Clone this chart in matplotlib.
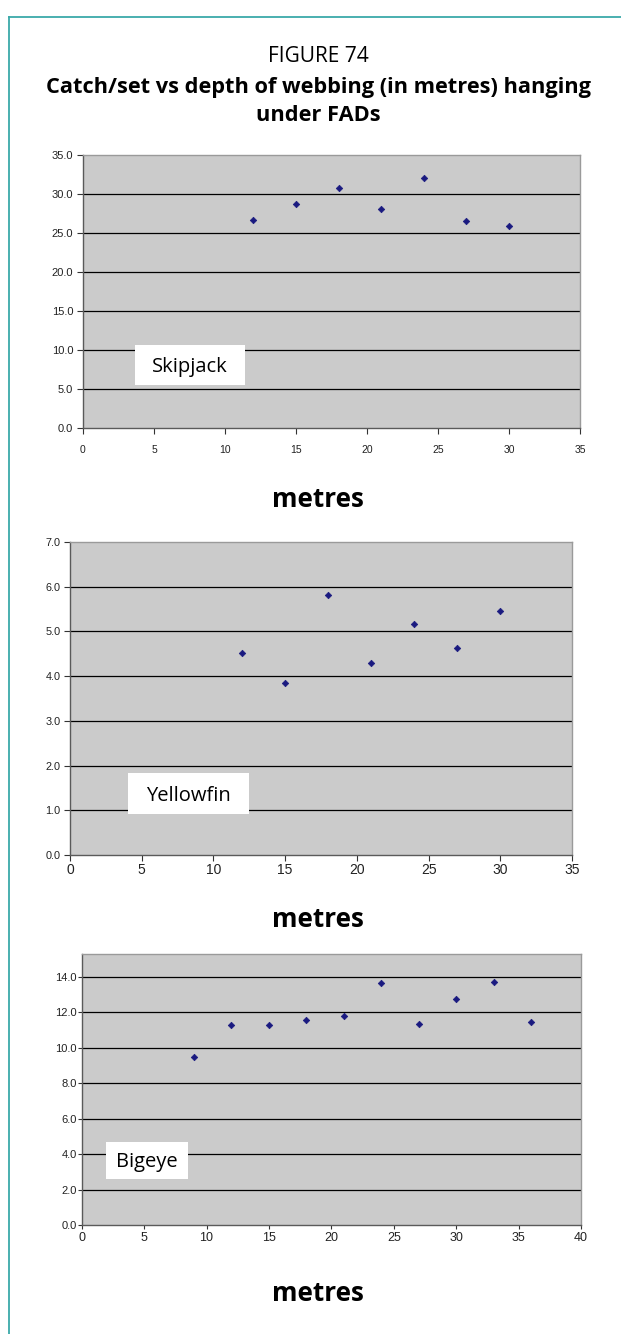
import matplotlib
matplotlib.use("Agg")
import matplotlib.pyplot as plt
from matplotlib.lines import Line2D
from matplotlib.ticker import FormatStrFormatter, MultipleLocator

# Depth of webbing under FADs (metres)
depth_7 = [12, 15, 18, 21, 24, 27, 30]
depth_10 = [9, 12, 15, 18, 21, 24, 27, 30, 33, 36]

# Catch per set by species
skipjack = [26.6, 28.7, 30.8, 28.1, 32.0, 26.5, 25.9]
yellowfin = [4.52, 3.84, 5.81, 4.30, 5.16, 4.62, 5.45]
bigeye = [9.49, 11.27, 11.27, 11.59, 11.80, 13.64, 11.37, 12.74, 13.74, 11.48]

species = ["Skipjack", "Yellowfin", "Bigeye"]
fig_number = "FIGURE 74"
title_lines = ["Catch/set vs depth of webbing (in metres) hanging", "under FADs"]
xlabel = "metres"

W, H = 621, 1334
fig = plt.figure(figsize=(W / 100, H / 100), dpi=100)
fig.patch.set_facecolor("white")

TEAL = "#3aa9a9"
TXT_FONT = ["Open Sans", "DejaVu Sans"]
TICK_FONT = ["Liberation Sans", "DejaVu Sans"]


def fx(x):
    return x / W


def fy(y):
    return 1 - y / H


def px_rect(left, top, right, bottom):
    return [left / W, 1 - bottom / H, (right - left) / W, (bottom - top) / H]


# page frame: teal rule along the left and top
fig.add_artist(Line2D([fx(9), fx(9)], [0, fy(17)], color=TEAL, lw=1.3,
                      transform=fig.transFigure))
fig.add_artist(Line2D([fx(9), 1], [fy(17), fy(17)], color=TEAL, lw=1.3,
                      transform=fig.transFigure))

fig.text(fx(318), fy(62), fig_number, ha="center", va="baseline",
         fontsize=15, family=TXT_FONT)
fig.text(fx(318), fy(93), title_lines[0], ha="center", va="baseline",
         fontsize=15.7, fontweight="bold", family=TXT_FONT)
fig.text(fx(318), fy(121), title_lines[1], ha="center", va="baseline",
         fontsize=15.7, fontweight="bold", family=TXT_FONT)

panels = [
    dict(rect=(83, 154.7, 580, 428.3), x=depth_7, y=skipjack, xlim=(0, 35),
         xstep=5, ylim=(0, 35), ystep=5, ymax_tick=35,
         box=(135, 345, 245, 385), name=species[0], name_base=372,
         xl_base=507, ysize=8.0, xsize=7.5, ylen=4, ypad=3, xlen=4, xpad=8),
    dict(rect=(70, 542, 572, 855), x=depth_7, y=yellowfin, xlim=(0, 35),
         xstep=5, ylim=(0, 7), ystep=1, ymax_tick=7,
         box=(127.7, 772.7, 249, 814), name=species[1], name_base=801,
         xl_base=927, ysize=7.8, xsize=10, ylen=4, ypad=3, xlen=4, xpad=2),
    dict(rect=(81.7, 954, 581, 1225), x=depth_10, y=bigeye, xlim=(0, 40),
         xstep=5, ylim=(0, 15.3), ystep=2, ymax_tick=14,
         box=(105.7, 1141.7, 188.3, 1179.3), name=species[2], name_base=1167,
         xl_base=1301, ysize=8.0, xsize=9, ylen=3, ypad=0.5, xlen=3, xpad=2),
]

for p in panels:
    ax = fig.add_axes(px_rect(*p["rect"]))
    ax.set_facecolor("#cbcbcb")
    ax.set_xlim(*p["xlim"])
    ax.set_ylim(*p["ylim"])
    ax.xaxis.set_major_locator(MultipleLocator(p["xstep"]))
    yt = list(range(0, int(p["ymax_tick"]) + 1, p["ystep"]))
    ax.set_yticks(yt)
    ax.yaxis.set_major_formatter(FormatStrFormatter("%.1f"))
    for v in yt[1:]:
        if v < p["ylim"][1]:
            ax.axhline(v, color="black", lw=0.9, zorder=1)
    ax.scatter(p["x"], p["y"], marker="D", s=11, color="#1a1a80",
               edgecolors="#1a1a80", linewidths=0.5, zorder=3, clip_on=False)
    for s in ("left", "bottom"):
        ax.spines[s].set_color("#5a5a5a")
        ax.spines[s].set_linewidth(1.0)
    for s in ("top", "right"):
        ax.spines[s].set_color("#9a9a9a")
        ax.spines[s].set_linewidth(1.0)
    ax.tick_params(axis="y", direction="out", length=p["ylen"], width=0.8,
                   color="#333333", labelsize=p["ysize"], labelcolor="#222222",
                   pad=p["ypad"])
    ax.tick_params(axis="x", direction="out", length=p["xlen"], width=0.8,
                   color="#333333", labelsize=p["xsize"], labelcolor="#222222",
                   pad=p["xpad"])
    for lab in ax.get_xticklabels() + ax.get_yticklabels():
        lab.set_family(TICK_FONT)

    bl, bt, br, bb = p["box"]
    fig.patches.append(plt.Rectangle((fx(bl), fy(bb)), (br - bl) / W,
                                     (bb - bt) / H, transform=fig.transFigure,
                                     facecolor="white", edgecolor="none",
                                     zorder=5))
    fig.text(fx((bl + br) / 2), fy(p["name_base"]), p["name"], ha="center",
             va="baseline", fontsize=14.5, family=TXT_FONT, zorder=6)
    fig.text(fx(318), fy(p["xl_base"]), xlabel, ha="center", va="baseline",
             fontsize=18.7, fontweight="bold", family=TXT_FONT)

fig.savefig("out.png", dpi=100)
